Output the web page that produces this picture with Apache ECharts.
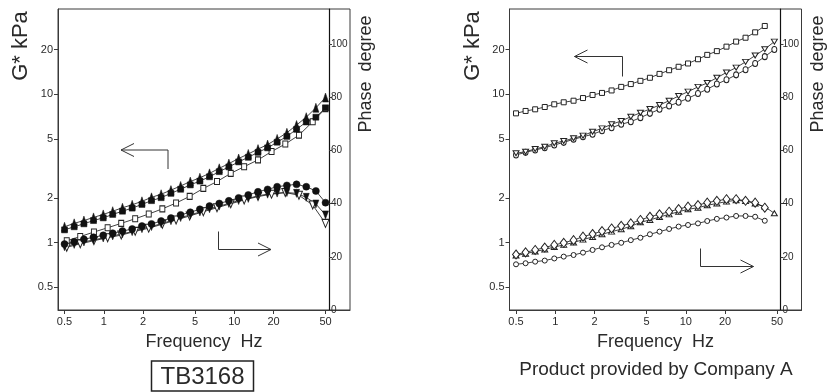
<!DOCTYPE html>
<html>
<head>
<meta charset="utf-8">
<script src="https://cdn.jsdelivr.net/npm/echarts@6/dist/echarts.min.js"></script>
<style>
  html, body { margin: 0; padding: 0; background: #fff; }
  #chart { width: 828px; height: 392px; }
</style>
</head>
<body>
<div id="chart"></div>
<script>
// ---- data ----
// left panel (TB3168), sweep A/B
const freqLeftAB = [0.5, 0.593, 0.704, 0.834, 0.99, 1.17, 1.39, 1.65, 1.96, 2.32, 2.75, 3.27, 3.88, 4.6,
  5.45, 6.46, 7.67, 9.09, 10.8, 12.8, 15.2, 18.0, 21.3, 25.3, 30.0, 35.6, 42.2, 50];
const gTriUpFilled = [1.28, 1.35, 1.41, 1.48, 1.55, 1.63, 1.72, 1.80, 1.90, 2.02, 2.12, 2.26, 2.41, 2.58,
  2.74, 2.93, 3.17, 3.41, 3.69, 3.96, 4.27, 4.58, 5.0, 5.5, 6.2, 7.0, 8.1, 9.5];
const gSquareFilled = [1.22, 1.28, 1.34, 1.41, 1.47, 1.55, 1.63, 1.71, 1.81, 1.92, 2.01, 2.15, 2.29, 2.45,
  2.60, 2.78, 3.01, 3.24, 3.50, 3.76, 4.06, 4.35, 4.75, 5.2, 5.8, 6.5, 7.0, 8.1];
const phCircleFilled = [24.8, 25.7, 26.6, 27.4, 28.1, 28.9, 29.7, 30.5, 31.6, 32.4, 33.5, 34.6, 35.8, 36.8,
  37.9, 39.1, 40.1, 41.1, 42.2, 43.3, 44.5, 45.4, 46.4, 46.9, 47.3, 46.4, 44.8, 40.4];
const phTriDownFilled = [23.8, 24.7, 25.6, 26.4, 27.1, 27.9, 28.7, 29.5, 30.6, 31.4, 32.5, 33.6, 34.8, 35.8,
  36.9, 38.1, 39.1, 40.1, 41.2, 42.0, 43.0, 43.6, 44.0, 44.2, 43.9, 42.4, 39.9, 35.8];
// left panel, sweep C (open symbols)
const freqLeftC = [0.52, 0.66, 0.84, 1.07, 1.36, 1.74, 2.21, 2.81, 3.58, 4.55, 5.79, 7.37, 9.39, 11.9,
  15.2, 19.3, 24.6, 31.3, 39.9, 50];
const gSquareOpen = [1.03, 1.10, 1.18, 1.26, 1.35, 1.45, 1.56, 1.69, 1.85, 2.05, 2.32, 2.58, 2.93, 3.25,
  3.61, 4.11, 4.62, 5.3, 6.53, 8.0];
const phTriDownOpen = [23.6, 24.9, 26.1, 27.2, 28.2, 29.6, 30.8, 32.3, 33.9, 35.4, 37.0, 38.5, 40.0, 41.4,
  42.7, 43.6, 44.2, 43.2, 39.5, 32.6];

// right panel (Company A)
const freqRight = [0.5, 0.592, 0.701, 0.83, 0.982, 1.16, 1.38, 1.63, 1.93, 2.28, 2.70, 3.20, 3.79, 4.49,
  5.31, 6.29, 7.45, 8.81, 10.4, 12.4, 14.6, 17.3, 20.5, 24.3, 28.7, 34.0, 40.3, 47.7];
const gSquareDot = [7.43, 7.71, 7.91, 8.20, 8.55, 8.82, 9.04, 9.42, 9.88, 10.2, 10.6, 11.2, 11.7, 12.3,
  12.9, 13.7, 14.5, 15.3, 16.1, 17.2, 18.4, 19.5, 20.9, 22.6, 24.0, 26.1, 28.8];
const gTriDownOpenR = [4.00, 4.10, 4.28, 4.43, 4.67, 4.84, 5.05, 5.26, 5.59, 5.89, 6.27, 6.60, 7.05, 7.50,
  7.94, 8.45, 9.04, 9.72, 10.4, 11.2, 11.9, 12.9, 14.0, 15.1, 16.5, 18.2, 20.1, 22.6];
const gCircleOpenR = [3.90, 4.06, 4.21, 4.36, 4.55, 4.74, 4.97, 5.17, 5.37, 5.68, 5.95, 6.27, 6.53, 6.95,
  7.43, 7.91, 8.33, 8.82, 9.38, 10.1, 10.8, 11.7, 12.5, 13.5, 14.6, 16.1, 17.9, 20.0];
const phDiamondOpen = [20.9, 21.7, 22.6, 23.5, 24.5, 25.3, 26.3, 27.6, 28.6, 29.7, 30.7, 31.7, 32.6, 33.9,
  35.1, 36.0, 37.0, 38.0, 38.9, 39.5, 40.4, 41.1, 41.7, 41.7, 41.1, 40.4, 38.5];
const phTriUpOpenR = [20.5, 21.2, 22.0, 22.8, 23.7, 24.5, 25.4, 26.5, 27.5, 28.5, 29.5, 30.4, 31.5, 33.0,
  33.9, 35.0, 36.0, 37.0, 37.9, 38.5, 39.4, 40.1, 40.8, 41.3, 41.0, 40.1, 38.9, 36.4];
const phCircleDot = [17.2, 17.6, 18.2, 18.6, 19.4, 20.1, 20.7, 21.6, 22.6, 23.6, 24.5, 25.3, 26.3, 27.2,
  28.5, 29.5, 30.5, 31.4, 32.0, 32.6, 33.5, 34.3, 34.8, 35.4, 35.4, 35.1, 33.6];

// tick labels
const freqTicks = [0.5, 1, 2, 5, 10, 20, 50];
const modulusTicks = [0.5, 1, 2, 5, 10, 20];
const phaseTicks = [0, 20, 40, 60, 80, 100];

// ---- chart ----
const FONT = '"Liberation Sans", Arial, sans-serif';
const AXIS_COLOR = '#3a3a3a';
const TEXT_COLOR = '#2a2a2a';
const log10 = Math.log10;
const fmtLog = (v) => String(+Math.pow(10, v).toPrecision(2));

const panelLefts = [58, 509.5];

function pairs(freqs, vals, logY) {
  return vals.map((v, i) => [log10(freqs[i]), logY ? log10(v) : v]);
}

function curve(panel, phase, freqs, vals, symbol, size, filled, rotate) {
  return {
    type: 'line',
    xAxisIndex: panel,
    yAxisIndex: panel * 2 + (phase ? 1 : 0),
    data: pairs(freqs, vals, !phase),
    symbol,
    symbolSize: size,
    symbolRotate: rotate || 0,
    showSymbol: true,
    showAllSymbol: true,
    clip: false,
    lineStyle: { color: '#111', width: 0.8 },
    itemStyle: filled
      ? { color: '#111', borderColor: '#111', borderWidth: 0.5 }
      : { color: '#fff', borderColor: '#222', borderWidth: 1 },
    emphasis: { disabled: true },
  };
}

function dots(panel, phase, freqs, vals) {
  return {
    type: 'scatter',
    xAxisIndex: panel,
    yAxisIndex: panel * 2 + (phase ? 1 : 0),
    data: pairs(freqs, vals, !phase),
    symbol: 'circle',
    symbolSize: 1.8,
    clip: false,
    itemStyle: { color: '#111' },
    emphasis: { disabled: true },
  };
}

const grids = panelLefts.map((left) => ({
  left, top: 9, width: 292, height: 301,
  show: true, borderColor: AXIS_COLOR, borderWidth: 1, backgroundColor: 'transparent',
}));

const xAxes = panelLefts.map((_, i) => ({
  type: 'value', gridIndex: i, min: -0.351, max: 1.8867,
  axisLine: { show: true, onZero: false, lineStyle: { color: AXIS_COLOR, width: 1 } },
  axisTick: { show: true, length: 4, customValues: freqTicks.map(log10), lineStyle: { color: AXIS_COLOR } },
  axisLabel: {
    customValues: freqTicks.map(log10), formatter: fmtLog,
    fontSize: 11, fontFamily: FONT, color: TEXT_COLOR, margin: 6,
  },
  splitLine: { show: false },
}));

const yAxes = [];
panelLefts.forEach((_, i) => {
  yAxes.push({
    type: 'value', gridIndex: i, min: -0.4532, max: 1.5737, position: 'left',
    axisLine: { show: true, onZero: false, lineStyle: { color: AXIS_COLOR, width: 1 } },
    axisTick: { show: true, length: 4, customValues: modulusTicks.map(log10), lineStyle: { color: AXIS_COLOR } },
    axisLabel: {
      customValues: modulusTicks.map(log10), formatter: fmtLog,
      fontSize: 11, fontFamily: FONT, color: TEXT_COLOR, margin: 5,
    },
    splitLine: { show: false },
  });
  yAxes.push({
    type: 'value', gridIndex: i, min: 0, max: 113.3, position: 'right', offset: -21,
    axisLine: { show: true, onZero: false, lineStyle: { color: '#111', width: 1.2 } },
    axisTick: { show: true, length: 3, customValues: phaseTicks, lineStyle: { color: AXIS_COLOR } },
    axisLabel: {
      customValues: phaseTicks, fontSize: 10, fontFamily: FONT, color: TEXT_COLOR, margin: 2,
    },
    splitLine: { show: false },
  });
});

const series = [
  // left panel
  curve(0, false, freqLeftC, gSquareOpen, 'rect', [5, 6], false),
  curve(0, true, freqLeftC, phTriDownOpen, 'triangle', [7, 8], false, 180),
  curve(0, false, freqLeftAB, gSquareFilled, 'rect', [6, 6], true),
  curve(0, true, freqLeftAB, phTriDownFilled, 'triangle', [6, 8], true, 180),
  curve(0, false, freqLeftAB, gTriUpFilled, 'triangle', [6, 9], true),
  curve(0, true, freqLeftAB, phCircleFilled, 'circle', 7, true),
  // right panel
  curve(1, false, freqRight, gSquareDot, 'rect', [5, 5], false),
  dots(1, false, freqRight, gSquareDot),
  curve(1, false, freqRight, gCircleOpenR, 'circle', [5, 6], false),
  curve(1, false, freqRight, gTriDownOpenR, 'triangle', [6, 5], false, 180),
  curve(1, true, freqRight, phTriUpOpenR, 'triangle', [6, 5], false),
  curve(1, true, freqRight, phDiamondOpen, 'diamond', [7, 9], false),
  curve(1, true, freqRight, phCircleDot, 'circle', 5, false),
  dots(1, true, freqRight, phCircleDot),
];

function label(text, x, y, size, rotated) {
  return {
    type: 'text', x, y, rotation: rotated ? Math.PI / 2 : 0, silent: true,
    style: { text, fontSize: size, fontFamily: FONT, fill: TEXT_COLOR, align: 'center', verticalAlign: 'middle' },
  };
}

function arrow(stem, head) {
  const st = { stroke: '#333', lineWidth: 1, fill: null };
  return [
    { type: 'polyline', shape: { points: stem }, style: st, silent: true },
    { type: 'polyline', shape: { points: head }, style: st, silent: true },
  ];
}

const graphic = [
  label('G* kPa', 21, 46, 22, true),
  label('Phase  degree', 366.5, 74, 18, true),
  label('Frequency  Hz', 204, 342, 18),
  label('G* kPa', 472.5, 46, 22, true),
  label('Phase  degree', 818, 74, 18, true),
  label('Frequency  Hz', 655.5, 342, 18),
  {
    type: 'rect', shape: { x: 151.5, y: 361, width: 102, height: 30 }, silent: true,
    style: { stroke: '#222', lineWidth: 1.5, fill: '#fff' },
  },
  label('TB3168', 202.5, 377, 24),
  label('Product provided by Company A', 656, 370, 19),
  ...arrow([[168, 169], [168, 150], [121, 150]], [[134, 143.5], [121, 150], [134, 156.5]]),
  ...arrow([[218.5, 231.5], [218.5, 249.5], [271, 249.5]], [[258, 243], [271, 249.5], [258, 256]]),
  ...arrow([[622.5, 76.5], [622.5, 56.5], [574.5, 56.5]], [[587.5, 50], [574.5, 56.5], [587.5, 63]]),
  ...arrow([[700.5, 248.5], [700.5, 266.5], [753.5, 266.5]], [[740.5, 260], [753.5, 266.5], [740.5, 273]]),
];

const chart = echarts.init(document.getElementById('chart'), null, { renderer: 'canvas' });
chart.setOption({
  animation: false,
  backgroundColor: '#fff',
  grid: grids,
  xAxis: xAxes,
  yAxis: yAxes,
  series,
  graphic,
});
</script>
</body>
</html>
